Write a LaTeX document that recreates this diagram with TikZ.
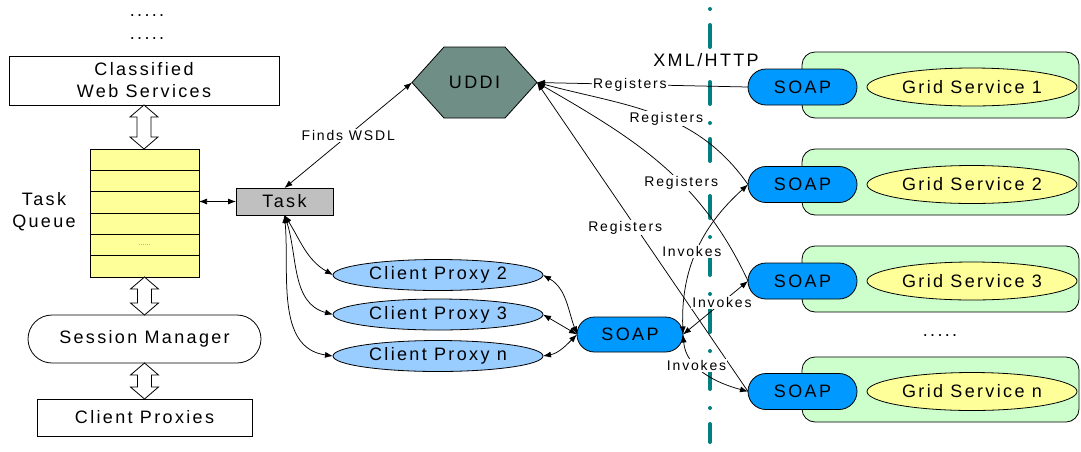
\documentclass[tikz,border=0pt]{standalone}
\usepackage{fontspec}
\setmainfont{Liberation Sans}[LetterSpace=13]
\usetikzlibrary{arrows.meta,calc,shapes.geometric,shapes.misc}

\definecolor{qyellow}{RGB}{255,255,153}
\definecolor{pxblue}{RGB}{153,204,255}
\definecolor{soapblue}{RGB}{0,153,255}
\definecolor{gsgreen}{RGB}{204,255,204}
\definecolor{uddifill}{RGB}{111,143,134}
\definecolor{taskgray}{RGB}{192,192,192}
\definecolor{septeal}{RGB}{0,128,128}

% hollow double-headed arrow between two vertically stacked nodes
\newcommand\hollowlink[2]{%
  \draw[hollow] let \p1=(#1.south), \p2=(#2.north) in
    (\x1,\y1) -- (\x1+14pt,\y1-12pt) -- (\x1+7pt,\y1-12pt) -- (\x1+7pt,\y2+12pt)
    -- (\x1+14pt,\y2+12pt) -- (\x1,\y2) -- (\x1-14pt,\y2+12pt) -- (\x1-7pt,\y2+12pt)
    -- (\x1-7pt,\y1-12pt) -- (\x1-14pt,\y1-12pt) -- cycle;}

\begin{document}
\begin{tikzpicture}[x=1pt,y=-1pt,
  >={Latex[length=8pt,width=6pt]},
  every node/.style={font=\fontsize{18}{22}\selectfont, inner sep=0pt, outer sep=0pt},
  plainbox/.style={rectangle, draw, line width=0.8pt, fill=white},
  stadium/.style={rounded rectangle, draw, line width=0.8pt, fill=white},
  proxy/.style={ellipse, draw, line width=0.8pt, fill=pxblue, minimum width=210pt, minimum height=31pt},
  soapnode/.style={rounded rectangle, draw, line width=0.8pt, fill=soapblue, minimum width=109pt, minimum height=36pt},
  gsnode/.style={ellipse, draw, line width=0.8pt, fill=qyellow, minimum width=210pt, minimum height=38pt},
  hostbox/.style={rectangle, draw, line width=0.8pt, fill=gsgreen, rounded corners=13pt, minimum width=277pt, minimum height=66pt},
  lbl/.style={font=\fontsize{14}{16}\selectfont, fill=white, inner sep=1.2pt},
  hollow/.style={draw=black, fill=white, line width=0.8pt},
  twoway/.style={draw, line width=0.75pt, <->},
  oneway/.style={draw, line width=0.75pt, ->},
  sepline/.style={draw=septeal, line width=4pt, line cap=round, dash pattern=on 0pt off 16pt on 22pt off 19pt}
]
\useasboundingbox (0,0) rectangle (1081,451);

% protocol boundary
\coordinate (septop) at (710,9);
\coordinate (sepbot) at (710,442);
\draw[sepline] (septop) -- (sepbot);
\node[fill=white, inner sep=1pt] (xml) at (706,60) {XML/HTTP};

% left column: services, queue, session manager, proxies
\node (dotsa) at (147,16) {.....};
\node (dotsb) at (147,39) {.....};
\node[plainbox, minimum width=270pt, minimum height=49pt, align=center] (cws) at (144,80.5) {Classified\\Web Services};
\node[rectangle, draw, line width=0.8pt, fill=qyellow, minimum width=109pt, minimum height=128pt] (queue) at (144.5,213) {};
\foreach \k in {1,...,5}
  \draw[line width=0.8pt] ($(queue.north west)+(0,\k*128/6)$) -- ($(queue.north east)+(0,\k*128/6)$);
\node[font=\fontsize{5}{6}\selectfont] (qdots) at (144.5,245.5) {......};
\node[align=center] (qlabel) at (44,211.5) {Task\\Queue};
\node[stadium, minimum width=233pt, minimum height=48pt] (sm) at (144.5,339) {Session Manager};
\node[plainbox, minimum width=215pt, minimum height=37pt] (cp) at (144.5,417.5) {Client Proxies};
\hollowlink{cws}{queue}
\hollowlink{queue}{sm}
\hollowlink{sm}{cp}

% task and registry
\node[plainbox, fill=taskgray, minimum width=97pt, minimum height=27pt] (task) at (284.5,201.5) {Task};
\draw[twoway] (queue.east |- task.west) -- (task.west);
\node[minimum width=125pt, minimum height=71pt] (uddi) at (474.5,82.5) {};
\draw[line width=0.8pt, fill=uddifill] (uddi.west) -- ($(uddi.north)+(-30.5,0)$) -- ($(uddi.north)+(30.5,0)$)
  -- (uddi.east) -- ($(uddi.south)+(30.5,0)$) -- ($(uddi.south)+(-30.5,0)$) -- cycle;
\node (uddiname) at (uddi.center) {UDDI};
\draw[twoway] (task.north) -- node[lbl] (finds) {Finds WSDL} (uddi.west);

% client proxies and client-side SOAP
\node[proxy] (cp2) at (438,275) {Client Proxy 2};
\node[proxy] (cp3) at (438,314.5) {Client Proxy 3};
\node[proxy] (cpn) at (438,356) {Client Proxy n};
\node[soapnode, minimum width=106pt, minimum height=35pt] (msoap) at (630,334.5) {SOAP};
\draw[twoway] (task.south) to[out=-58,in=150] (cp2.west);
\draw[twoway] (task.south) to[out=-72,in=165] (cp3.west);
\draw[twoway] (task.south) to[out=-85,in=172] (cpn.west);
\draw[twoway] (cp2.east) to[out=-30,in=110] (msoap.west);
\draw[twoway] (cp3.east) -- (msoap.west);
\draw[twoway] (cpn.east) to[out=10,in=-135] (msoap.west);

% grid services
\node[hostbox] (h1) at (940.5,85) {};
\node[hostbox] (h2) at (940.5,182) {};
\node[hostbox] (h3) at (940.5,279) {};
\node[hostbox, minimum height=65pt] (hn) at (940.5,389.5) {};
\node[soapnode] (soap1) at (802.5,87) {SOAP};
\node[soapnode] (soap2) at (802.5,184.5) {SOAP};
\node[soapnode] (soap3) at (802.5,281) {SOAP};
\node[soapnode] (soapn) at (802.5,391.5) {SOAP};
\node[gsnode] (gs1) at (972,87) {Grid Service 1};
\node[gsnode] (gs2) at (972,184.5) {Grid Service 2};
\node[gsnode] (gs3) at (972,281) {Grid Service 3};
\node[gsnode] (gsn) at (972,391.5) {Grid Service n};
\node (dotsc) at (940,336) {.....};

% registrations with the registry
\draw[oneway] (soap1.west) -- node[lbl, pos=0.56] (reg1) {Registers} (uddi.east);
\draw[oneway] (soap2.west) to[out=125,in=-15] node[lbl, pos=0.45] (reg2) {Registers} (uddi.east);
\draw[oneway] (soap3.west) to[out=115,in=-30] node[lbl, pos=0.4] (reg3) {Registers} (uddi.east);
\draw[oneway] (soapn.west) -- node[lbl, pos=0.53, xshift=-11pt] (reg4) {Registers} (uddi.east);

% invocations across the boundary
\draw[twoway] (msoap.east) to[out=92,in=-138] node[lbl, pos=0.5, xshift=-5pt] (inv2) {Invokes} (soap2.west);
\draw[twoway] (msoap.east) -- node[lbl, pos=0.6] (inv3) {Invokes} (soap3.west);
\draw[twoway] (msoap.east) to[out=-85,in=165] node[lbl, pos=0.38] (invn) {Invokes} (soapn.west);
\end{tikzpicture}
\end{document}
